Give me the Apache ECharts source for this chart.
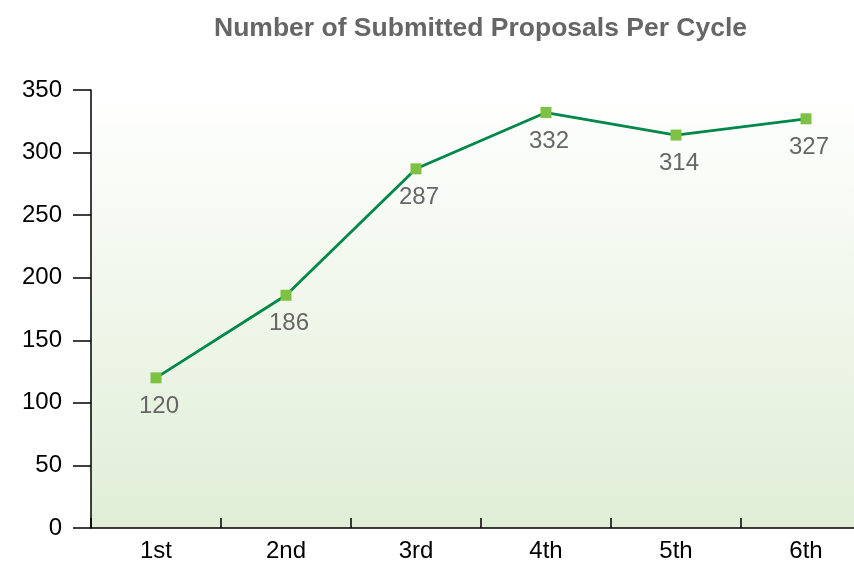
<!DOCTYPE html>
<html>
<head>
<meta charset="utf-8">
<script src="https://cdn.jsdelivr.net/npm/echarts@6/dist/echarts.min.js"></script>
<style>
  html, body { margin: 0; padding: 0; background: #fff; }
  #chart { width: 854px; height: 561px; }
</style>
</head>
<body>
<div id="chart"></div>
<script>
const cycles = ['1st', '2nd', '3rd', '4th', '5th', '6th']
const proposals = [120, 186, 287, 332, 314, 327]
const yTicks = { min: 0, max: 350, interval: 50 }

const font = '"Liberation Sans", Arial, Helvetica, sans-serif'
const chart = echarts.init(document.getElementById('chart'))

chart.setOption({
  animation: false,
  title: {
    text: 'Number of Submitted Proposals Per Cycle',
    left: 209,
    top: 10,
    textStyle: { fontFamily: font, fontSize: 26.5, fontWeight: 'bold', color: '#666666' }
  },
  grid: {
    left: 91, top: 90, width: 780, height: 438,
    outerBoundsMode: 'none',
    containLabel: false,
    show: true,
    borderWidth: 0,
    backgroundColor: {
      type: 'linear', x: 0, y: 0, x2: 0, y2: 1,
      colorStops: [
        { offset: 0, color: '#ffffff' },
        { offset: 1, color: '#e0eed6' }
      ]
    }
  },
  xAxis: {
    type: 'category',
    data: cycles,
    boundaryGap: true,
    axisLine: { lineStyle: { color: '#000', width: 1.5 } },
    axisTick: { show: true, inside: true, length: 10, lineStyle: { color: '#000', width: 1.5 } },
    axisLabel: { fontFamily: font, fontSize: 24, color: '#000', margin: 11 },
    splitLine: { show: false }
  },
  yAxis: {
    type: 'value',
    min: yTicks.min, max: yTicks.max, interval: yTicks.interval,
    axisLine: { show: true, lineStyle: { color: '#000', width: 1.5 } },
    axisTick: { show: true, length: 18, lineStyle: { color: '#000', width: 1.5 } },
    axisLabel: { fontFamily: font, fontSize: 24, color: '#000', margin: 29 },
    splitLine: { show: false }
  },
  series: [{
    type: 'line',
    data: proposals,
    symbol: 'rect',
    symbolSize: 11,
    itemStyle: { color: '#7dc242' },
    lineStyle: { color: '#00874a', width: 2.8 },
    label: {
      show: true,
      position: 'bottom',
      distance: 11,
      offset: [3, 0],
      fontFamily: font,
      fontSize: 24,
      color: '#666666'
    }
  }]
})
</script>
</body>
</html>
